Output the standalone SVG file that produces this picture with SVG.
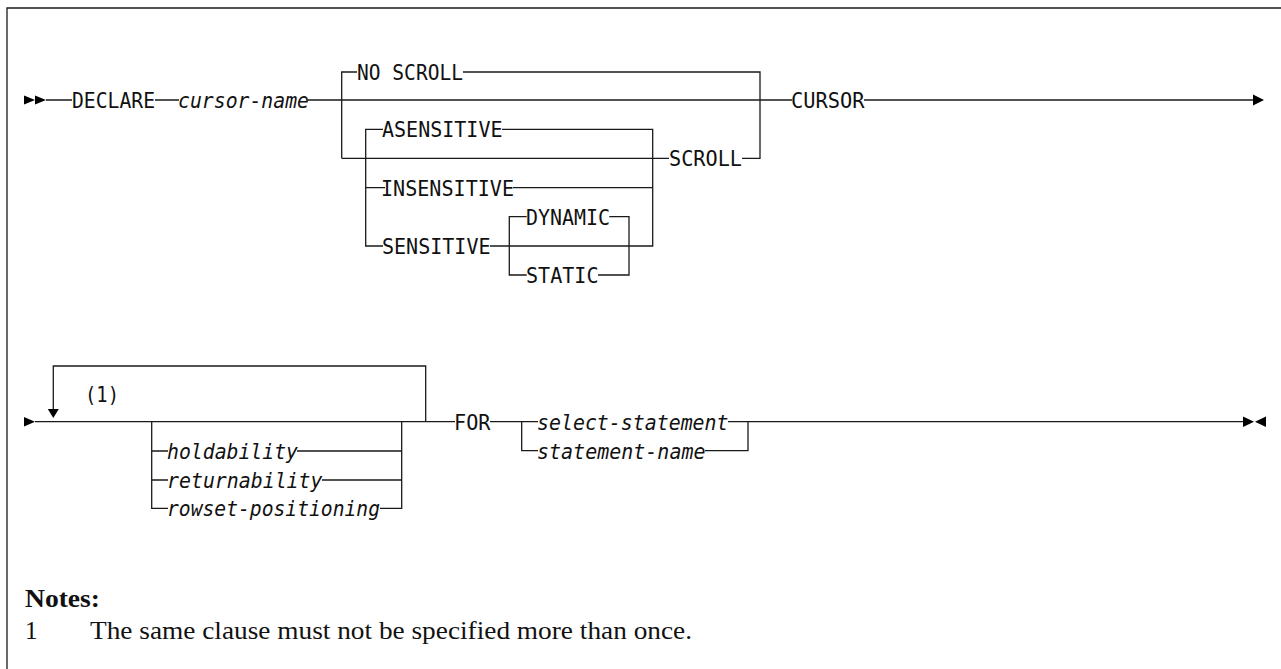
<svg xmlns="http://www.w3.org/2000/svg" width="1281" height="669" viewBox="0 0 1281 669">
<style>
  .ln { fill: none; stroke: #1a1a1a; stroke-width: 1.3; }
  .kw { font-family: "DejaVu Sans Mono", "Liberation Mono", monospace; font-size: 22px; fill: #111; }
  .var { font-family: "DejaVu Sans Mono", "Liberation Mono", monospace; font-size: 22px; font-style: italic; fill: #111; }
  .ar { fill: #000; }
  .note { font-family: "Liberation Serif", "DejaVu Serif", serif; font-size: 25px; fill: #111; }
</style>
<rect x="0" y="0" width="1281" height="669" fill="#fff"/>
<path class="ln" d="M7,669 V8 H1281" stroke-width="1.6"/>

<g id="connectors">
  <!-- row 1 main -->
  <polygon class="ar" points="24,95.5 35,100 24,104.5"/>
  <polygon class="ar" points="35,95.5 46,100 35,104.5"/>
  <path class="ln" d="M46,100 H72 M155,100 H179 M308,100 H792 M864,100 H1253"/>
  <polygon class="ar" points="1253,94.5 1264,100 1253,105.5"/>
  <!-- NO SCROLL / SCROLL -->
  <path class="ln" d="M341.7,158.3 V72 H357 M463,72 H760 V158.3 H742 M669,158.3 H341.7"/>
  <!-- ASENSITIVE box -->
  <path class="ln" d="M383,129.3 H365.7 V246 H383 M365.7,187.7 H385 M502,129.3 H652.7 V246 H490 M513,187.7 H652.7"/>
  <!-- DYNAMIC box -->
  <path class="ln" d="M526.7,216.7 H509.3 V275 H526.7 M609.3,216.7 H629 V275 H598"/>

  <!-- row 2 main -->
  <polygon class="ar" points="24,417 35,421.7 24,426.4"/>
  <path class="ln" d="M35,421.7 H455 M490,421.7 H538 M728,421.7 H1243"/>
  <path class="ln" d="M53.3,409 V366 H425.7 V421.7"/>
  <polygon class="ar" points="47.8,409 58.8,409 53.3,418"/>
  <path class="ln" d="M151.7,421.7 V508.3 H168 M151.7,451 H168 M151.7,480 H168 M401.7,421.7 V508.3 H380 M401.7,451 H297 M401.7,480 H322"/>
  <path class="ln" d="M521.7,421.7 V450.7 H538 M748,421.7 V450.7 H705"/>
  <polygon class="ar" points="1243,416.5 1254,421.7 1243,427"/>
  <polygon class="ar" points="1266,416.5 1255,421.7 1266,427"/>
</g>

<g id="declare"><text class="kw" x="72" y="108" textLength="83" lengthAdjust="spacingAndGlyphs">DECLARE</text></g>
<g id="cursor-name"><text class="var" x="178" y="108" textLength="131" lengthAdjust="spacingAndGlyphs">cursor-name</text></g>
<g id="no-scroll"><text class="kw" x="357" y="80" textLength="106" lengthAdjust="spacingAndGlyphs">NO SCROLL</text></g>
<g id="scroll"><text class="kw" x="669" y="166.3" textLength="73" lengthAdjust="spacingAndGlyphs">SCROLL</text></g>
<g id="asensitive"><text class="kw" x="382" y="137.3" textLength="120.5" lengthAdjust="spacingAndGlyphs">ASENSITIVE</text></g>
<g id="insensitive"><text class="kw" x="381" y="195.7" textLength="133" lengthAdjust="spacingAndGlyphs">INSENSITIVE</text></g>
<g id="sensitive"><text class="kw" x="382" y="254" textLength="108.5" lengthAdjust="spacingAndGlyphs">SENSITIVE</text></g>
<g id="dynamic"><text class="kw" x="526" y="224.7" textLength="84" lengthAdjust="spacingAndGlyphs">DYNAMIC</text></g>
<g id="static"><text class="kw" x="526" y="283" textLength="72.5" lengthAdjust="spacingAndGlyphs">STATIC</text></g>
<g id="cursor"><text class="kw" x="791" y="108" textLength="73.5" lengthAdjust="spacingAndGlyphs">CURSOR</text></g>

<g id="note-ref"><text class="kw" x="85" y="402" textLength="34" lengthAdjust="spacingAndGlyphs">(1)</text></g>
<g id="holdability"><text class="var" x="167" y="459" textLength="131" lengthAdjust="spacingAndGlyphs">holdability</text></g>
<g id="returnability"><text class="var" x="167" y="488" textLength="155.5" lengthAdjust="spacingAndGlyphs">returnability</text></g>
<g id="rowset-positioning"><text class="var" x="167" y="516.3" textLength="213" lengthAdjust="spacingAndGlyphs">rowset-positioning</text></g>
<g id="for"><text class="kw" x="454" y="429.7" textLength="36.5" lengthAdjust="spacingAndGlyphs">FOR</text></g>
<g id="select-statement"><text class="var" x="537" y="429.7" textLength="191.5" lengthAdjust="spacingAndGlyphs">select-statement</text></g>
<g id="statement-name"><text class="var" x="537" y="458.7" textLength="168.5" lengthAdjust="spacingAndGlyphs">statement-name</text></g>

<g id="notes">
  <text class="note" x="25" y="607" font-weight="bold" textLength="75" lengthAdjust="spacingAndGlyphs">Notes:</text>
  <text class="note" x="25" y="639">1</text>
  <text class="note" x="90" y="639" textLength="602" lengthAdjust="spacingAndGlyphs">The same clause must not be specified more than once.</text>
</g>
</svg>
